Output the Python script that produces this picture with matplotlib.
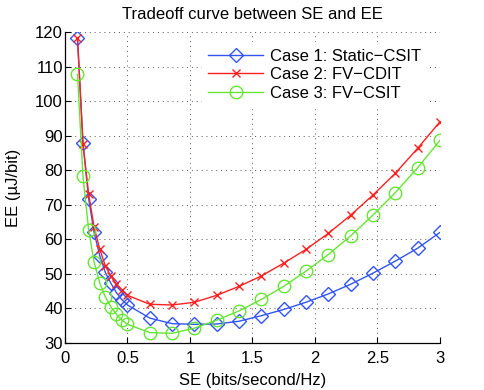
import numpy as np
import matplotlib
matplotlib.use("Agg")
import matplotlib.pyplot as plt

plt.rcParams["font.family"] = ["Liberation Sans", "DejaVu Sans"]

# SE values (bits/second/Hz) shared by all three cases
se = [0.1, 0.144, 0.189, 0.233, 0.278, 0.322, 0.367, 0.411, 0.456, 0.5,
      0.679, 0.857, 1.036, 1.214, 1.393, 1.571, 1.75, 1.929, 2.107, 2.286,
      2.464, 2.643, 2.821, 3.0]

ee_static_csit = [118.3, 87.8, 71.8, 62.0, 55.3, 50.5, 47.3, 44.6, 42.5, 41.0,
                  37.2, 35.6, 35.4, 35.5, 36.3, 37.9, 39.7, 41.8, 44.2, 47.0,
                  50.2, 53.7, 57.4, 62.0]
ee_fv_cdit = [118.3, 87.6, 73.2, 63.5, 57.2, 52.4, 49.3, 47.0, 45.3, 43.8,
              41.2, 41.0, 41.8, 43.8, 46.4, 49.4, 53.1, 57.1, 61.7, 67.0,
              72.8, 79.1, 86.3, 94.0]
ee_fv_csit = [107.8, 78.2, 62.8, 53.4, 47.4, 43.4, 40.5, 38.3, 36.6, 35.4,
              33.0, 32.8, 34.3, 36.6, 39.3, 42.6, 46.4, 50.8, 55.6, 61.0,
              67.0, 73.5, 80.7, 88.6]

labels = ["Case 1: Static\u2212CSIT", "Case 2: FV\u2212CDIT", "Case 3: FV\u2212CSIT"]

fig = plt.figure(figsize=(4.85, 3.9), dpi=100)
ax = fig.add_axes([0.134, 0.1205, 0.773, 0.7975])

ax.plot(se, ee_static_csit, color="#3355f5", lw=1.0, marker="D", ms=7.5,
        mfc="none", mec="#3355f5", mew=1.0, label=labels[0])
ax.plot(se, ee_fv_cdit, color="#ff2020", lw=1.0, marker="x", ms=6,
        mew=1.0, label=labels[1])
ax.plot(se, ee_fv_csit, color="#66e633", lw=1.0, marker="o", ms=9,
        mfc="none", mec="#66e633", mew=1.0, label=labels[2])

ax.set_xlim(0, 3)
ax.set_ylim(30, 120)
ax.set_xticks([0, 0.5, 1, 1.5, 2, 2.5, 3])
ax.set_xticklabels(["0", "0.5", "1", "1.5", "2", "2.5", "3"])
ax.set_yticks(range(30, 121, 10))
ax.tick_params(direction="in", labelsize=12, length=4, width=0.8)
ax.tick_params(axis="x", pad=6)
ax.tick_params(axis="y", pad=1.5)
ax.grid(True, linestyle=(0, (1, 4)), color="#555555", lw=0.7)
for s in ["top", "right"]:
    ax.spines[s].set_visible(False)
for s in ["left", "bottom"]:
    ax.spines[s].set_linewidth(0.9)

ax.set_title("Tradeoff curve between SE and EE", fontsize=12, pad=9.5)
ax.set_xlabel("SE (bits/second/Hz)", fontsize=12, labelpad=5)
ax.set_ylabel("EE (\u00b5J/bit)", fontsize=12, labelpad=10)

leg = ax.legend(loc="upper right", bbox_to_anchor=(0.968, 0.968),
                fontsize=12, handlelength=3.3, handletextpad=0.4,
                frameon=True, fancybox=False, framealpha=1,
                borderaxespad=0, borderpad=0.4, labelspacing=0.22)
leg.get_frame().set_edgecolor("white")

fig.savefig("out.png", dpi=100)
